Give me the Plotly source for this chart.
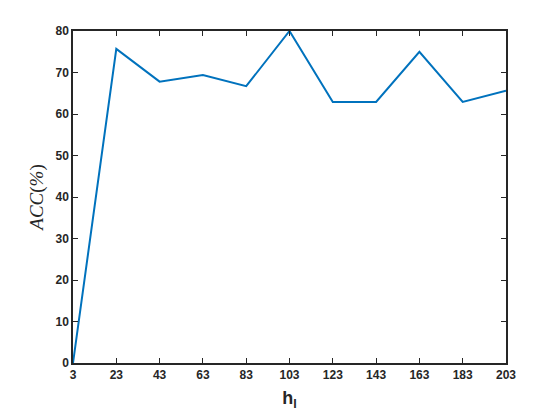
import plotly.graph_objects as go

h_values = [3, 23, 43, 63, 83, 103, 123, 143, 163, 183, 203]
acc_values = [0, 75.7, 67.8, 69.4, 66.7, 80.0, 62.9, 62.9, 75.0, 62.9, 65.6]
x_ticks = [3, 23, 43, 63, 83, 103, 123, 143, 163, 183, 203]
y_ticks = [0, 10, 20, 30, 40, 50, 60, 70, 80]

fig = go.Figure()
fig.add_trace(go.Scatter(
    x=h_values, y=acc_values, mode="lines",
    line=dict(color="#0072BD", width=2),
    showlegend=False,
))

axis_common = dict(
    showline=True, linecolor="#262626", linewidth=1.5, mirror="ticks",
    ticks="inside", ticklen=5, tickwidth=1.2, tickcolor="#262626",
    showgrid=False, zeroline=False,
    tickfont=dict(family="Liberation Sans, Arial", size=12, color="#262626", weight="bold"),
)

fig.update_xaxes(
    range=[3, 203], tickvals=x_ticks, ticktext=[str(t) for t in x_ticks],
    title=dict(text="<b>h<sub>l</sub></b>", font=dict(family="Liberation Sans, Arial", size=18, color="#262626"), standoff=10),
    **axis_common,
)
fig.update_yaxes(
    range=[0, 80], tickvals=y_ticks, ticktext=[str(t) for t in y_ticks],
    title=dict(text="<i>ACC</i>(<i>%</i>)", font=dict(family="Liberation Serif, Times New Roman", size=19, color="#262626", weight="normal"), standoff=7),
    **axis_common,
)
fig.update_layout(
    width=560, height=420,
    margin=dict(l=65, r=62, t=23, b=65),
    paper_bgcolor="white", plot_bgcolor="white",
    font=dict(family="Liberation Sans, Arial", size=12, color="#262626"),
)

fig.write_html("out.html")
